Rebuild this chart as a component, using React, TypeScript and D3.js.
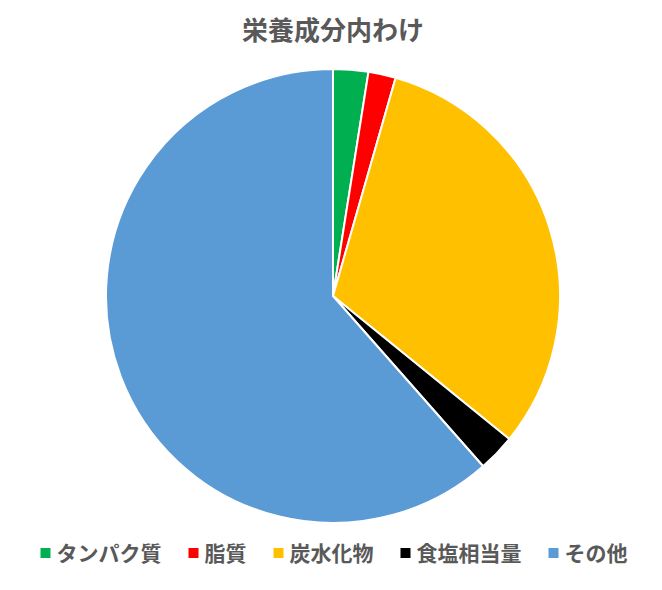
import React, { useEffect, useRef } from 'react';
import * as d3 from 'd3';

const categories = ['タンパク質', '脂質', '炭水化物', '食塩相当量', 'その他'];
const values = [2.5, 1.95, 31.4, 2.65, 61.5];
const colors = ['#00b050', '#ff0000', '#ffc000', '#000000', '#5b9bd5'];
const title = '栄養成分内わけ';

type Slice = { name: string; value: number; color: string };

const App: React.FC = () => {
  const svgRef = useRef<SVGSVGElement | null>(null);

  useEffect(() => {
    const width = 662;
    const height = 590;
    const cx = 333;
    const cy = 296;
    const radius = 227;
    const font = '"Noto Sans CJK JP", "Noto Sans", sans-serif';

    const data: Slice[] = categories.map((c, i) => ({ name: c, value: values[i], color: colors[i] }));

    const svg = d3.select(svgRef.current)
      .attr('width', width)
      .attr('height', height);

    svg.selectAll('*').remove();

    svg.append('rect')
      .attr('width', width)
      .attr('height', height)
      .attr('fill', '#ffffff');

    // title
    svg.append('text')
      .attr('x', cx)
      .attr('y', 40)
      .attr('text-anchor', 'middle')
      .attr('font-family', font)
      .attr('font-size', 26)
      .attr('font-weight', 'bold')
      .attr('fill', '#595959')
      .text(title);

    const pie = d3.pie<Slice>().sort(null).value(d => d.value);
    const arc = d3.arc<d3.PieArcDatum<Slice>>().innerRadius(0).outerRadius(radius);

    svg.append('g')
      .attr('transform', `translate(${cx},${cy})`)
      .selectAll('path')
      .data(pie(data))
      .join('path')
      .attr('d', arc)
      .attr('fill', d => d.data.color)
      .attr('stroke', '#ffffff')
      .attr('stroke-width', 2)
      .attr('stroke-linejoin', 'round');

    // legend
    const legend = svg.append('g');
    const items = legend.selectAll('g')
      .data(data)
      .join('g');

    items.append('rect')
      .attr('width', 10)
      .attr('height', 10)
      .attr('y', -5)
      .attr('fill', d => d.color);

    items.append('text')
      .attr('x', 16)
      .attr('y', 0)
      .attr('dy', '0.36em')
      .attr('font-family', font)
      .attr('font-size', 21)
      .attr('font-weight', 'bold')
      .attr('fill', '#595959')
      .text(d => d.name);

    const gap = 27;
    const widths: number[] = [];
    items.each(function () {
      const t = d3.select(this).select<SVGTextElement>('text').node();
      widths.push(16 + (t ? t.getComputedTextLength() : 0));
    });
    const total = d3.sum(widths) + gap * (widths.length - 1);
    let x = 334 - total / 2;
    items.attr('transform', (_, i) => {
      const tx = x;
      x += widths[i] + gap;
      return `translate(${tx},553)`;
    });
  }, []);

  return <svg ref={svgRef} style={{ display: 'block', margin: '-8px' }}></svg>;
};

export default App;
